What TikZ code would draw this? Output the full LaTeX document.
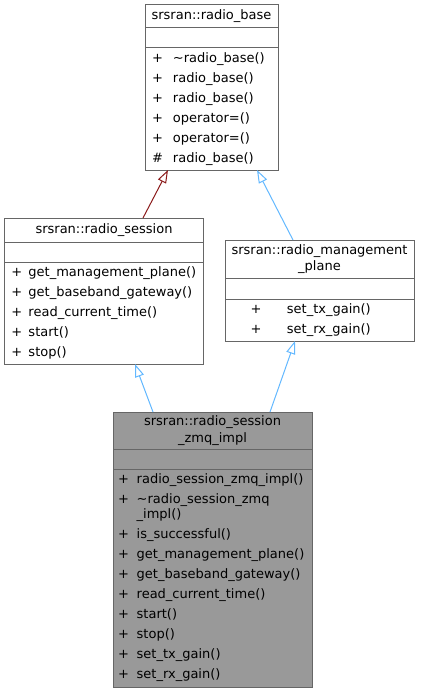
\documentclass[tikz,border=0pt]{standalone}
\usepackage{fontspec}
\setmainfont{DejaVu Sans}
\usepackage{xcolor}
\usepackage{tikz}
\usetikzlibrary{positioning,arrows.meta}
\definecolor{cframe}{HTML}{666666}
\definecolor{cfocus}{HTML}{999999}
\definecolor{cpub}{HTML}{63B8FF}
\definecolor{cprot}{HTML}{8B1A1A}
\newcommand{\opline}[3][21bp]{\makebox[#1][l]{#2}#3}

\begin{document}
\begin{tikzpicture}[x=1bp,y=-1bp,
    box/.style={draw=cframe,fill=white,line width=1bp,inner sep=0pt,outer sep=0pt,
      font=\fontsize{13bp}{16.5bp}\selectfont,align=center},
    ops/.style={box,align=left,font=\fontsize{13bp}{20bp}\selectfont},
    inherit/.style={draw=cpub,line width=1bp,-{Triangle[open,length=13bp,width=9bp]}},
    inheritprot/.style={inherit,draw=cprot}]
  \useasboundingbox (0,0) rectangle (421,692);
  % radio_base
  \node[box,minimum width=133bp,minimum height=23bp] (base) at (211.5,16.5) {srsran::radio\_base};
  \node[box,minimum width=133bp,minimum height=20bp,below=0pt of base] (base_attr) {};
  \node[ops,minimum width=133bp,minimum height=122bp,inner xsep=7bp,text width=119bp,
    below=0pt of base_attr] (base_ops)
    {\opline{+}{\textasciitilde radio\_base()}\\
     \opline{+}{radio\_base()}\\
     \opline{+}{radio\_base()}\\
     \opline{+}{operator=()}\\
     \opline{+}{operator=()}\\
     \opline{\#}{radio\_base()}};
  % radio_session
  \node[box,minimum width=198bp,minimum height=24bp] (sess) at (104,230) {srsran::radio\_session};
  \node[box,minimum width=198bp,minimum height=20bp,below=0pt of sess] (sess_attr) {};
  \node[ops,minimum width=198bp,minimum height=102bp,inner xsep=6.3bp,text width=185bp,
    below=0pt of sess_attr] (sess_ops)
    {\opline[17bp]{+}{get\_management\_plane()}\\
     \opline[17bp]{+}{get\_baseband\_gateway()}\\
     \opline[17bp]{+}{read\_current\_time()}\\
     \opline[17bp]{+}{start()}\\
     \opline[17bp]{+}{stop()}};
  % radio_management_plane
  \node[box,minimum width=189bp,minimum height=38bp] (mgmt) at (319.5,259)
    {srsran::radio\_management\\\_plane};
  \node[box,minimum width=189bp,minimum height=21bp,below=0pt of mgmt] (mgmt_attr) {};
  \node[ops,minimum width=189bp,minimum height=42bp,inner xsep=25.3bp,text width=138bp,
    below=0pt of mgmt_attr] (mgmt_ops)
    {\opline[36.4bp]{+}{set\_tx\_gain()}\\
     \opline[36.4bp]{+}{set\_rx\_gain()}};
  % radio_session_zmq_impl
  \node[box,fill=cfocus,minimum width=199bp,minimum height=37bp] (zmq) at (212.5,430.5)
    {srsran::radio\_session\\\_zmq\_impl};
  \node[box,fill=cfocus,minimum width=199bp,minimum height=20bp,below=0pt of zmq] (zmq_attr) {};
  \node[ops,fill=cfocus,minimum width=199bp,minimum height=218bp,inner xsep=5bp,text width=189bp,
    below=0pt of zmq_attr] (zmq_ops)
    {\opline[18.7bp]{+}{radio\_session\_zmq\_impl()}\\
     \opline[18.7bp]{+}{\textasciitilde radio\_session\_zmq}\\[-5bp]
     \opline[18.7bp]{}{\_impl()}\\
     \opline[18.7bp]{+}{is\_successful()}\\
     \opline[18.7bp]{+}{get\_management\_plane()}\\
     \opline[18.7bp]{+}{get\_baseband\_gateway()}\\
     \opline[18.7bp]{+}{read\_current\_time()}\\
     \opline[18.7bp]{+}{start()}\\
     \opline[18.7bp]{+}{stop()}\\
     \opline[18.7bp]{+}{set\_tx\_gain()}\\
     \opline[18.7bp]{+}{set\_rx\_gain()}};
  % inheritance
  \draw[inheritprot] ([xshift=-60bp]sess.north east) -- ([xshift=23bp]base_ops.south west);
  \draw[inherit] ([xshift=68bp]mgmt.north west) -- ([xshift=-21bp]base_ops.south east);
  \draw[inherit] ([xshift=40bp]zmq.north west) -- ([xshift=-68bp]sess_ops.south east);
  \draw[inherit] ([xshift=-42bp]zmq.north east) -- ([xshift=70bp]mgmt_ops.south west);
\end{tikzpicture}
\end{document}
